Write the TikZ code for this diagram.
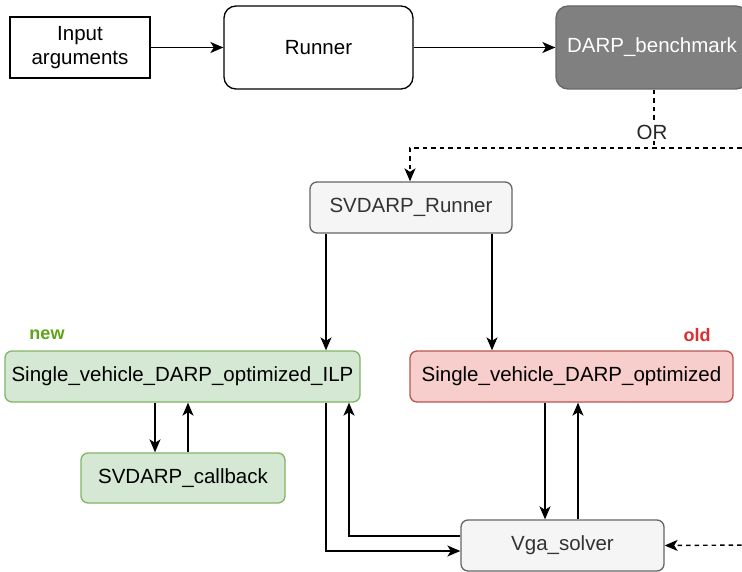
\documentclass[tikz,border=0pt]{standalone}
\usepackage{fontspec}
\setmainfont{Liberation Sans}
\usetikzlibrary{arrows.meta,calc}
\definecolor{grnfill}{HTML}{D5E8D4}
\definecolor{grnline}{HTML}{82B366}
\definecolor{redfill}{HTML}{F8CECC}
\definecolor{redline}{HTML}{B85450}
\definecolor{gryfill}{HTML}{F5F5F5}
\definecolor{gryline}{HTML}{666666}
\definecolor{darkfill}{HTML}{808080}
\definecolor{newcol}{HTML}{5FA319}
\definecolor{oldcol}{HTML}{DD2F2F}
\begin{document}
\begin{tikzpicture}[x=1pt,y=-1pt,
  font=\fontsize{20.5}{24}\selectfont,
  box/.style={draw, line width=1.3pt, rounded corners=9pt, align=center, inner sep=0pt},
  graybox/.style={box, fill=gryfill, draw=gryline, text=black!80, rounded corners=7pt},
  greenbox/.style={box, fill=grnfill, draw=grnline, rounded corners=7pt},
  redbox/.style={box, fill=redfill, draw=redline, rounded corners=7pt},
  conn/.style={line width=1.4pt, -{Stealth[length=13pt,width=11pt,inset=3.5pt]}},
  dconn/.style={conn, dashed, dash pattern=on 4.5pt off 4pt}
]
\useasboundingbox (0,0) rectangle (742,572);
\clip (0,0) rectangle (742,572);

\node[draw, line width=1.3pt, align=center, minimum width=140pt, minimum height=61pt, inner sep=0pt] (inp) at (80,47.5) {Input\\arguments};
\node[box, minimum width=189pt, minimum height=83pt, rounded corners=12pt] (run) at (318.5,47.5) {Runner};
\node[box, fill=darkfill, draw=gryline, text=white, minimum width=192pt, minimum height=83pt, rounded corners=12pt] (darp) at (652,47.5) {DARP\_benchmark};

\node[graybox, minimum width=202pt, minimum height=51pt] (svr) at (411,207.5) {SVDARP\_Runner};
\node[greenbox, minimum width=355pt, minimum height=51pt] (ilp) at (182.5,376.5) {Single\_vehicle\_DARP\_optimized\_ILP};
\node[redbox, minimum width=323pt, minimum height=51pt] (opt) at (571.5,376.5) {Single\_vehicle\_DARP\_optimized};
\node[greenbox, minimum width=204pt, minimum height=50pt] (cb) at (183,478) {SVDARP\_callback};
\node[graybox, minimum width=203pt, minimum height=51pt] (vga) at (562.5,545.5) {Vga\_solver};

\node[text=newcol, font=\fontsize{18}{20}\selectfont\bfseries] (newl) at (47,335) {new};
\node[text=oldcol, font=\fontsize{18}{20}\selectfont\bfseries] (oldl) at (697,335) {old};

% top chain
\draw[conn] (inp) -- (run);
\draw[conn] (run) -- (darp);

% OR branch
\coordinate (orj) at (654,148);
\coordinate (orr) at (750,148);
\draw[line width=1.4pt, dashed, dash pattern=on 4.5pt off 4pt] (darp.south -| orj) -- (orj);
\node[fill=white, inner sep=1pt, text=black!85] (orl) at (652,132) {OR};
\draw[dconn] (orr) -- (410,148) -- (svr.north -| 410,0);

% from runner
\draw[conn] (svr.south -| 326,0) -- (ilp.north -| 326,0);
\draw[conn] (svr.south -| 492,0) -- (opt.north -| 492,0);

% ILP <-> callback
\draw[conn] (ilp.south -| 155,0) -- (cb.north -| 155,0);
\draw[conn] (cb.north -| 188,0) -- (ilp.south -| 188,0);

% opt <-> vga
\draw[conn] (opt.south -| 545,0) -- (vga.north -| 545,0);
\draw[conn] (vga.north -| 578,0) -- (opt.south -| 578,0);

% ILP <-> vga
\draw[conn] (ilp.south -| 326,0) |- (vga.west |- 0,551);
\draw[conn] (vga.west |- 0,536) -| (ilp.south -| 349,0);

% dashed into vga
\coordinate (vr) at (750,545);
\draw[dconn] (vr) -- (vga.east);
\end{tikzpicture}
\end{document}
